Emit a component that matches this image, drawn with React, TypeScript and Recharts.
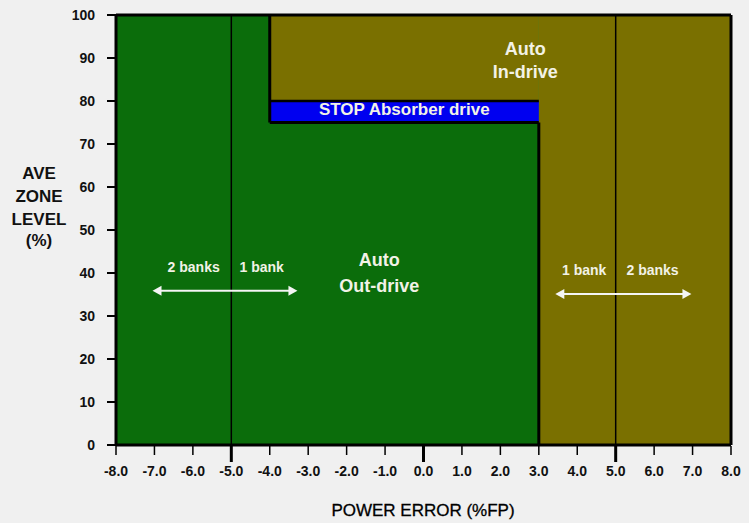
import React from 'react';
import { ComposedChart, XAxis, YAxis, Scatter, ReferenceArea, ReferenceLine } from 'recharts';

// ---- data ----
const xTicks = [-8, -7, -6, -5, -4, -3, -2, -1, 0, 1, 2, 3, 4, 5, 6, 7, 8];
const majorXTicks = [-5, 0, 5];
const yTicks = [0, 10, 20, 30, 40, 50, 60, 70, 80, 90, 100];

// control zones
const zoneX1 = [-8, 3, -4, -4];
const zoneX2 = [3, 8, 3, 3];
const zoneY1 = [0, 0, 80, 75];
const zoneY2 = [100, 100, 100, 80];
const zoneKind = ['out', 'in', 'in', 'stop'];

// zone boundary polyline
const boundaryX = [-4, -4, 3, 3];
const boundaryY = [100, 75, 75, 0];
const stopTopY = 80;

// bank dividers
const bankDividers = [-5, 5];

// annotations
const labelText = ['Auto', 'Out-drive', 'Auto', 'In-drive', 'STOP Absorber drive', '2 banks', '1 bank', '1 bank', '2 banks'];
const labelX = [-1.15, -1.15, 2.65, 2.65, -0.5, -5.98, -4.21, 4.18, 5.96];
const labelY = [41.6, 35.65, 90.7, 85.35, 76.7, 40.3, 40.3, 39.5, 39.5];
const labelSize = [18, 18, 18, 18, 17, 14, 14, 14, 14];

// arrows
const arrowFrom = [-7.05, 3.43];
const arrowTo = [-3.28, 6.97];
const arrowY = [35.9, 35.1];

// ---- styling ----
const FONT = '"Liberation Sans", Arial, sans-serif';
const zoneColors: Record<string, string> = { out: '#0b6d0b', in: '#7a7000', stop: '#0000f0' };
const TEXT_COLOR = '#f2f2e6';

const labelData = labelText.map((t, i) => ({ x: labelX[i], y: labelY[i], text: t, size: labelSize[i] }));

const XTick = (props: any) => {
  const { x, y, payload } = props;
  const major = majorXTicks.includes(payload.value);
  return (
    <g>
      <line x1={x} x2={x} y1={y + 1} y2={y + (major ? 17 : 10)} stroke="#000" strokeWidth={major ? 3 : 1.5} />
      <text x={x} y={y + 31} textAnchor="middle" fontFamily={FONT} fontWeight="bold" fontSize={14} fill="#111">
        {payload.value.toFixed(1)}
      </text>
    </g>
  );
};

const YTick = (props: any) => {
  const { x, y, payload } = props;
  return (
    <g>
      <line x1={x - 9} x2={x} y1={y} y2={y} stroke="#000" strokeWidth={2} />
      <text x={x - 21} y={y + 5} textAnchor="end" fontFamily={FONT} fontWeight="bold" fontSize={14} fill="#111">
        {payload.value}
      </text>
    </g>
  );
};

const renderLabel = (props: any) => {
  const { cx, cy, payload } = props;
  return (
    <text x={cx} y={cy} textAnchor="middle" fontFamily={FONT} fontWeight="bold" fontSize={payload.size} fill={TEXT_COLOR}>
      {payload.text}
    </text>
  );
};

const ArrowShape = (props: any) => {
  const { x1, y1, x2, y2 } = props;
  if (x1 == null) return null;
  const yy = y1;
  return (
    <g>
      <line x1={x1 + 6} x2={x2 - 6} y1={yy} y2={y2} stroke="#f5f5f5" strokeWidth={2} />
      <polygon points={`${x1},${yy} ${x1 + 9},${yy - 5} ${x1 + 9},${yy + 5}`} fill="#f5f5f5" />
      <polygon points={`${x2},${y2} ${x2 - 9},${y2 - 5} ${x2 - 9},${y2 + 5}`} fill="#f5f5f5" />
    </g>
  );
};

const YLabel = () => (
  <g fontFamily={FONT} fontWeight="bold" fontSize={17} fill="#111" textAnchor="middle">
    <text x={39} y={179}>AVE</text>
    <text x={39} y={202}>ZONE</text>
    <text x={39} y={225}>LEVEL</text>
    <text x={39} y={246}>(%)</text>
  </g>
);

export default function App() {
  const segs: any[] = [];
  for (let i = 0; i < boundaryX.length - 1; i++) {
    segs.push([{ x: boundaryX[i], y: boundaryY[i] }, { x: boundaryX[i + 1], y: boundaryY[i + 1] }]);
  }
  return (
    <div style={{ position: 'absolute', left: 0, top: 0, width: 749, height: 523, background: '#f0f0f0' }}>
      <ComposedChart width={749} height={523} margin={{ top: 15, right: 18, bottom: 0, left: 0 }}>
        <XAxis
          type="number"
          dataKey="x"
          domain={[-8, 8]}
          ticks={xTicks}
          interval={0}
          tickSize={0}
          tickMargin={0}
          tickLine={false}
          tick={<XTick />}
          axisLine={{ stroke: '#000', strokeWidth: 3 }}
          height={78}
          allowDataOverflow
          label={{
            content: () => (
              <text x={423} y={516} textAnchor="middle" fontFamily={FONT} fontSize={17} fill="#000" stroke="#000" strokeWidth={0.3}>
                POWER ERROR (%FP)
              </text>
            ),
          }}
        />
        <YAxis
          type="number"
          dataKey="y"
          domain={[0, 100]}
          ticks={yTicks}
          interval={0}
          tickSize={0}
          tickMargin={0}
          tickLine={false}
          tick={<YTick />}
          axisLine={{ stroke: '#000', strokeWidth: 3 }}
          width={116}
          allowDataOverflow
          label={{ content: () => <YLabel /> }}
        />
        {zoneKind.map((k, i) => (
          <ReferenceArea
            key={'z' + i}
            x1={zoneX1[i]}
            x2={zoneX2[i]}
            y1={zoneY1[i]}
            y2={zoneY2[i]}
            fill={zoneColors[k]}
            fillOpacity={1}
            stroke="none"
            ifOverflow="visible"
          />
        ))}
        {bankDividers.map((d) => (
          <ReferenceLine key={'d' + d} x={d} stroke="#000" strokeWidth={1.5} />
        ))}
        {segs.map((s, i) => (
          <ReferenceLine key={'b' + i} segment={s} stroke="#000" strokeWidth={3} ifOverflow="visible" />
        ))}
        <ReferenceLine segment={[{ x: boundaryX[1], y: stopTopY }, { x: boundaryX[2], y: stopTopY }]} stroke="#000" strokeWidth={2.5} />
        <ReferenceLine y={100} stroke="#000" strokeWidth={3} ifOverflow="visible" />
        <ReferenceLine x={8} stroke="#000" strokeWidth={3} ifOverflow="visible" />
        {arrowFrom.map((a, i) => (
          <ReferenceLine
            key={'a' + i}
            segment={[{ x: a, y: arrowY[i] }, { x: arrowTo[i], y: arrowY[i] }]}
            shape={(p: any) => <ArrowShape {...p} />}
          />
        ))}
        <Scatter data={labelData} shape={renderLabel} isAnimationActive={false} />
      </ComposedChart>
    </div>
  );
}
